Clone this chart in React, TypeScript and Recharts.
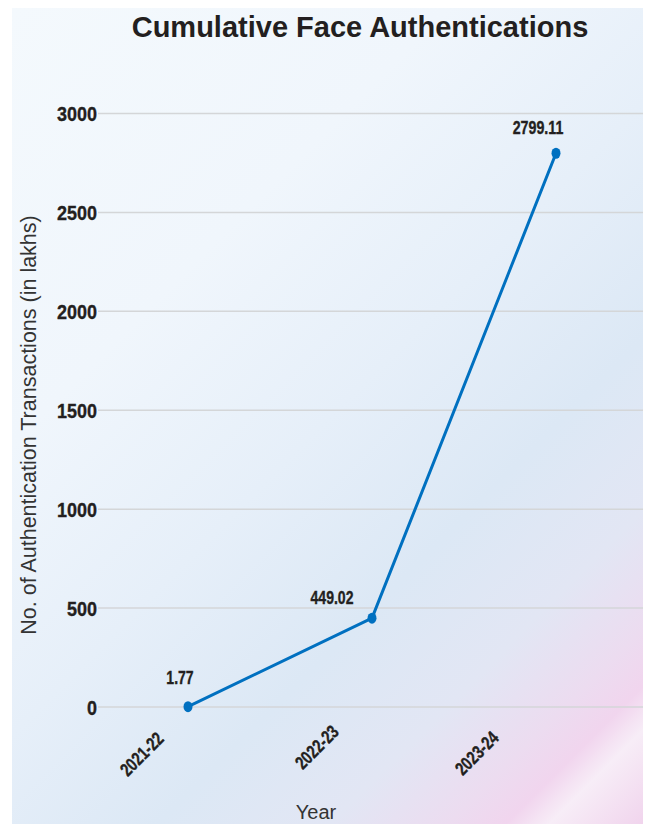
import React from 'react';
import { LineChart, Line, XAxis, YAxis, CartesianGrid, Label } from 'recharts';

const years = ['2021-22', '2022-23', '2023-24'];
const authentications = [1.77, 449.02, 2799.11];
const yTicks = [0, 500, 1000, 1500, 2000, 2500, 3000];

const TITLE = 'Cumulative Face Authentications';
const Y_LABEL = 'No. of Authentication Transactions (in lakhs)';
const X_LABEL = 'Year';

const data = years.map((year, i) => ({ year, value: authentications[i] }));

// label / tick placement tweaks (style only)
const LABEL_OFFSETS = [[-8, -23], [-40, -14], [-18, -19]];
const TICK_OFFSETS = [[-23, 33], [-32, 26], [-56, 32]];

const SANS = "'Liberation Sans', Arial, sans-serif";
const TEXT = '#231f20';
const BLUE = '#0070c0';

// condensed look: squeeze glyphs to a given advance per character
const condensedLength = (s: string, digit: number) =>
  s.split('').reduce((acc, c) => acc + (c === '.' ? digit * 0.5 : c === '-' ? digit * 0.6 : digit), 0);

const boldStyle = (size: number) => ({
  fontFamily: SANS,
  fontWeight: 700,
  fontSize: size,
  fill: TEXT,
  stroke: TEXT,
  strokeWidth: 0.35,
});

const XTick = (props: any) => {
  const { x, y, payload, index } = props;
  const i = typeof index === 'number' ? index : payload.index;
  const [dx, dy] = TICK_OFFSETS[i] || [0, 0];
  const tx = x + dx;
  const ty = y + dy;
  const s = String(payload.value);
  return (
    <text
      x={tx}
      y={ty}
      textAnchor="end"
      textLength={condensedLength(s, 8)}
      lengthAdjust="spacingAndGlyphs"
      transform={`rotate(-45, ${tx}, ${ty})`}
      style={boldStyle(18.5)}
    >
      {s}
    </text>
  );
};

const YTick = (props: any) => {
  const { x, y, payload } = props;
  const s = String(payload.value);
  return (
    <text
      x={x}
      y={y + 7.5}
      textAnchor="end"
      textLength={condensedLength(s, 10)}
      lengthAdjust="spacingAndGlyphs"
      style={boldStyle(21)}
    >
      {s}
    </text>
  );
};

const Dot = (props: any) => {
  const { cx, cy, index } = props;
  if (cx == null || cy == null) return null;
  return <ellipse key={`d${index}`} cx={cx} cy={cy} rx={4.5} ry={5.5} fill={BLUE} />;
};

const ValueLabel = (props: any) => {
  const { x, y, value, index } = props;
  const [dx, dy] = LABEL_OFFSETS[index] || [0, -10];
  const s = String(value);
  return (
    <text
      key={`l${index}`}
      x={x + dx}
      y={y + dy}
      textAnchor="middle"
      textLength={condensedLength(s, 7.8)}
      lengthAdjust="spacingAndGlyphs"
      style={boldStyle(17.5)}
    >
      {s}
    </text>
  );
};

export default function App() {
  return (
    <div
      style={{
        position: 'relative',
        marginLeft: 4,
        marginTop: -1,
        width: 639,
        height: 817,
        borderTop: '1px solid #dcdcdc',
        boxSizing: 'border-box',
        background:
          'linear-gradient(135deg, #f4f9fd 0%, #f0f6fc 30%, #e6eff9 50%, #dce8f5 66%, #e2e6f4 78%, #ecdcf0 86%, #f1d5ee 90%, #f7edf7 93%, #f0d2ec 100%)',
        overflow: 'hidden',
      }}
    >
      <div
        style={{
          position: 'absolute',
          left: 48,
          top: 5,
          width: 600,
          textAlign: 'center',
          fontFamily: SANS,
          fontWeight: 700,
          fontSize: 29,
          lineHeight: '29px',
          color: TEXT,
          whiteSpace: 'nowrap',
        }}
      >
        {TITLE}
      </div>
      <div style={{ position: 'absolute', left: 0, top: -1 }}>
        <LineChart
          width={639}
          height={817}
          data={data}
          margin={{ top: 106.5, right: 3, bottom: 87, left: 0 }}
        >
          <CartesianGrid horizontal vertical={false} stroke="#d4d6d8" strokeWidth={1.5} />
          <XAxis
            dataKey="year"
            axisLine={false}
            tickLine={false}
            tickSize={0}
            tickMargin={0}
            height={30}
            padding={{ left: 90, right: 92 }}
            tick={<XTick />}
            interval={0}
          >
            <Label
              content={() => (
                <text
                  x={304}
                  y={812}
                  textAnchor="middle"
                  style={{ fontFamily: SANS, fontSize: 20, fill: '#333333' }}
                >
                  {X_LABEL}
                </text>
              )}
            />
          </XAxis>
          <YAxis
            width={86}
            domain={[0, 3000]}
            ticks={yTicks}
            axisLine={false}
            tickLine={false}
            tickSize={0}
            tickMargin={1}
            interval={0}
            tick={<YTick />}
          >
            <Label
              content={() => (
                <text
                  x={24}
                  y={418}
                  textAnchor="middle"
                  transform="rotate(-90, 24, 418)"
                  style={{ fontFamily: SANS, fontSize: 21.5, fill: '#333333' }}
                >
                  {Y_LABEL}
                </text>
              )}
            />
          </YAxis>
          <Line
            type="linear"
            dataKey="value"
            stroke={BLUE}
            strokeWidth={3}
            dot={<Dot />}
            activeDot={false}
            label={<ValueLabel />}
            isAnimationActive={false}
          />
        </LineChart>
      </div>
    </div>
  );
}
